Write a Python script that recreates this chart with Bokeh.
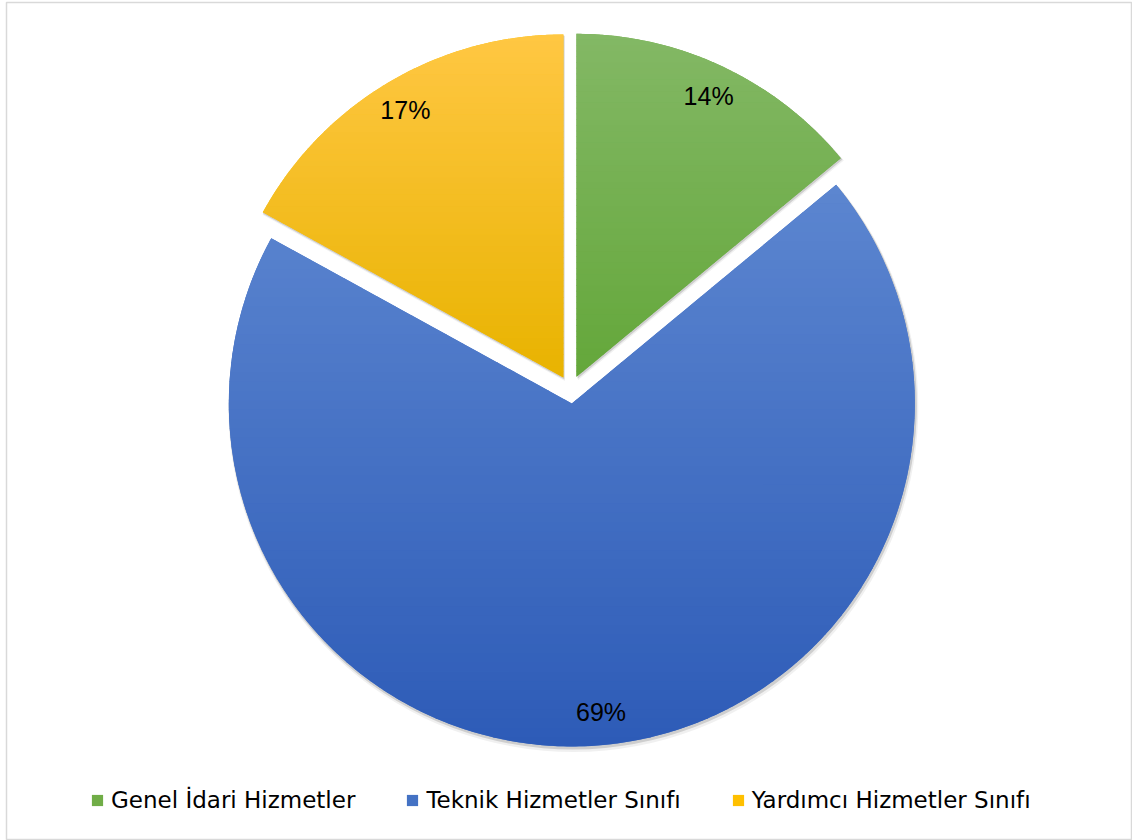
import numpy as np
from bokeh.plotting import figure
from bokeh.models import ColumnDataSource, Legend, LegendItem, Range1d
from bokeh.embed import file_html
from bokeh.resources import INLINE
from bokeh.core.properties import value

# ---- data ----
categories = ["Genel İdari Hizmetler", "Teknik Hizmetler Sınıfı", "Yardımcı Hizmetler Sınıfı"]
shares = [14, 69, 17]
labels = ["14%", "69%", "17%"]
colors = ["#70AD47", "#4472C4", "#FFC000"]
top_colors = ["#83b865", "#5c86d0", "#ffc743"]
bottom_colors = ["#64a73a", "#2d5bb7", "#e8b300"]

# ---- layout constants ----
W, H = 1132, 840
BL, BT, BB = 6, 2, 1
FW, FH = W - BL, H - BT - BB
CXP, CYP = 564, 387          # pie centre inside the frame (px from left / top)
R = 343
EXPLODE = 14
LABEL_R = EXPLODE + 0.905 * R

fracs = np.array(shares, dtype=float) / sum(shares)
cum = np.concatenate([[0.0], np.cumsum(fracs)])
start = np.pi / 2 - cum[:-1] * 2 * np.pi
end = np.pi / 2 - cum[1:] * 2 * np.pi
mid = (start + end) / 2
cx = EXPLODE * np.cos(mid)
cy = EXPLODE * np.sin(mid)

src = ColumnDataSource(dict(
    x=cx, y=cy, start=start, end=end, color=colors, cat=categories,
    lx=LABEL_R * np.cos(mid), ly=LABEL_R * np.sin(mid), label=labels,
    sx1=cx + 1.0, sy1=cy - 2.0, sx2=cx + 1.5, sy2=cy - 3.5,
))

p = figure(width=W, height=H, x_range=Range1d(-CXP, FW - CXP), y_range=Range1d(CYP - FH, CYP),
           output_backend="svg", toolbar_location=None,
           min_border_left=BL, min_border_top=BT, min_border_bottom=BB, min_border_right=0,
           x_axis_location=None, y_axis_location=None)
p.grid.grid_line_color = None
p.outline_line_color = "#d9d9d9"
p.outline_line_width = 1.5
p.background_fill_color = "white"
p.border_fill_color = "white"

# soft shadows
p.wedge(x="sx2", y="sy2", radius=R + 2, start_angle="start", end_angle="end",
        direction="clock", fill_color="#000000", fill_alpha=0.06, line_color=None, source=src)
p.wedge(x="sx1", y="sy1", radius=R + 1, start_angle="start", end_angle="end",
        direction="clock", fill_color="#000000", fill_alpha=0.14, line_color=None, source=src)

# base wedges (solid)
wr = p.wedge(x="x", y="y", radius=R, start_angle="start", end_angle="end",
             direction="clock", fill_color="color", line_color=None, source=src)


# vertical gradient overlay via horizontal bands of each slice
def _inter(a, b, yc):
    t = (yc - a[1]) / (b[1] - a[1])
    return (a[0] + t * (b[0] - a[0]), yc)


def _clip(pts, yc, above):
    out = []
    n = len(pts)
    for i in range(n):
        cur, prev = pts[i], pts[i - 1]
        cin = cur[1] >= yc if above else cur[1] <= yc
        pin = prev[1] >= yc if above else prev[1] <= yc
        if cin:
            if not pin:
                out.append(_inter(prev, cur, yc))
            out.append(cur)
        elif pin:
            out.append(_inter(prev, cur, yc))
    return out


def _mix(c1, c2, t):
    a = [int(c1[i:i + 2], 16) for i in (1, 3, 5)]
    b = [int(c2[i:i + 2], 16) for i in (1, 3, 5)]
    return "#%02x%02x%02x" % tuple(int(round(a[k] + (b[k] - a[k]) * t)) for k in range(3))


gx, gy, gc = [], [], []
NB = 60
for i in range(len(shares)):
    t = np.linspace(start[i], end[i], 500)
    poly = [(cx[i], cy[i])] + list(zip(cx[i] + R * np.cos(t), cy[i] + R * np.sin(t)))
    ys = [q[1] for q in poly]
    ymin, ymax = min(ys), max(ys)
    h = (ymax - ymin) / NB
    for k in range(NB):
        y0 = ymin + k * h - 0.3
        y1 = ymin + (k + 1) * h + 0.3
        band = _clip(_clip(poly, y0, True), y1, False)
        if len(band) < 3:
            continue
        gx.append([q[0] for q in band])
        gy.append([q[1] for q in band])
        frac_from_top = (ymax - (ymin + (k + 0.5) * h)) / (ymax - ymin)
        gc.append(_mix(top_colors[i], bottom_colors[i], frac_from_top))

p.patches(xs="xs", ys="ys", fill_color="c", line_color=None,
          source=ColumnDataSource(dict(xs=gx, ys=gy, c=gc)))

# percentage labels
p.text(x="lx", y="ly", text="label", source=src, text_font=value("Liberation Sans"),
       text_font_size="25px", text_align="center", text_baseline="middle", text_color="#000000")

legend = Legend(
    items=[LegendItem(label=categories[i], renderers=[wr], index=i) for i in range(len(categories))],
    orientation="horizontal", location=(84, 26),
    label_text_font="DejaVu Sans", label_text_font_size="23px", label_text_color="#000000",
    glyph_width=14, glyph_height=14, label_standoff=7, spacing=50,
    padding=0, margin=0, border_line_color=None, background_fill_alpha=0,
)
p.add_layout(legend)

open("out.html", "w").write(file_html(p, INLINE))
